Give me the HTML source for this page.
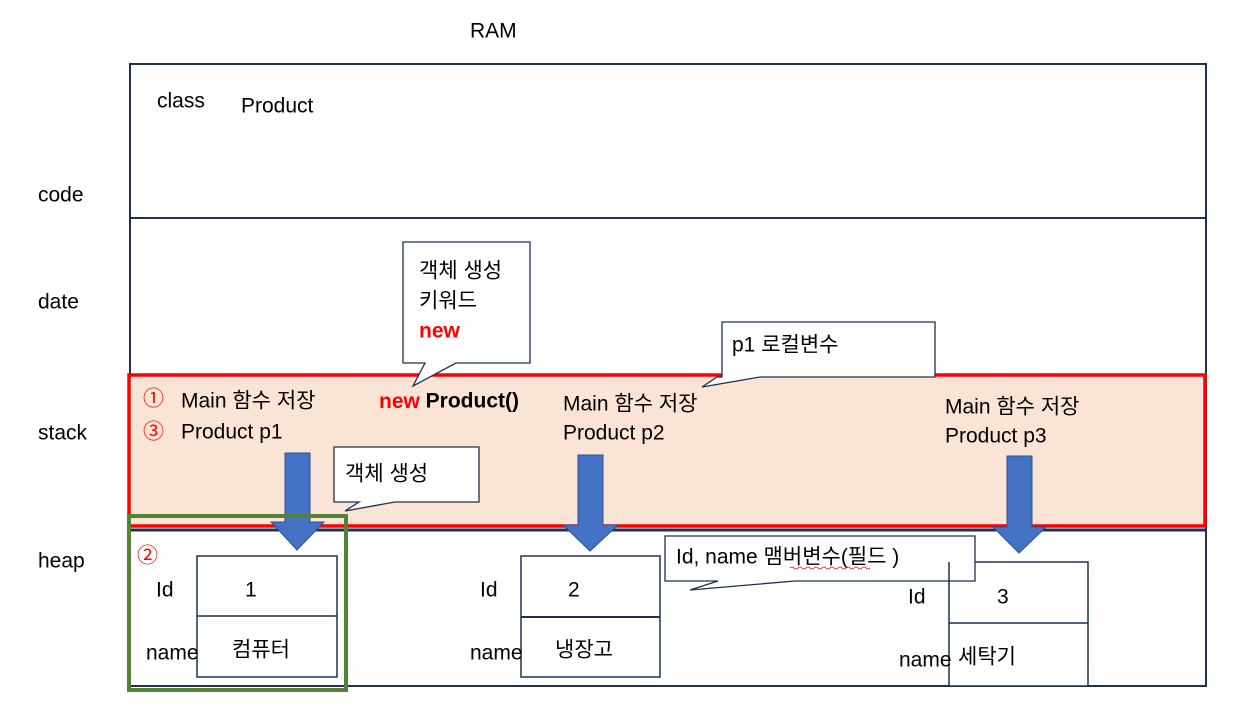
<!DOCTYPE html>
<html><head><meta charset="utf-8"><style>
html,body{margin:0;padding:0;background:#fff;width:1254px;height:712px;overflow:hidden}
text{font-family:"Liberation Sans","Noto Sans CJK KR",sans-serif;font-size:21px;fill:#000;dominant-baseline:central}
</style></head><body>
<svg width="1254" height="712" viewBox="0 0 1254 712" xmlns="http://www.w3.org/2000/svg">
<rect x="130" y="64" width="1076" height="622" fill="#fff" stroke="#1f3050" stroke-width="2"/>
<line x1="130" y1="218" x2="1206" y2="218" stroke="#1f3050" stroke-width="2"/>
<line x1="130" y1="530" x2="1206" y2="530" stroke="#1f3050" stroke-width="3"/>
<rect x="129" y="375" width="1076" height="151" fill="#fae4d6" stroke="#ff0000" stroke-width="3.5"/>

<!-- object boxes -->
<rect x="197" y="556" width="140" height="121" fill="#fff" stroke="#1f3050" stroke-width="1.5"/>
<line x1="197" y1="616" x2="337" y2="616" stroke="#1f3050" stroke-width="1.5"/>
<rect x="521" y="556" width="139" height="121" fill="#fff" stroke="#1f3050" stroke-width="1.5"/>
<line x1="521" y1="617" x2="660" y2="617" stroke="#1f3050" stroke-width="2"/>
<rect x="949" y="562" width="139" height="124" fill="#fff" stroke="#1f3050" stroke-width="1.5"/>
<line x1="949" y1="623" x2="1088" y2="623" stroke="#1f3050" stroke-width="1.5"/>

<!-- arrows -->
<polygon points="285,453 310,453 310,522 324,522 297,550 271,522 285,522" fill="#4472c4" stroke="#2f528f" stroke-width="1"/>
<polygon points="578,455 603,455 603,525 618,525 590,551 563,525 578,525" fill="#4472c4" stroke="#2f528f" stroke-width="1"/>
<polygon points="1007,456 1032,456 1032,527 1046,527 1019,553 993,527 1007,527" fill="#4472c4" stroke="#2f528f" stroke-width="1"/>

<!-- green box -->
<rect x="129" y="516" width="217" height="174" fill="none" stroke="#538135" stroke-width="4"/>

<!-- callouts -->
<path d="M403,242 H530 V363 H456 L413,386 L425,363 H403 Z" fill="#fff" stroke="#1f3050" stroke-width="1.3"/>
<path d="M722,322 H935 V377 H760 L702,387 L717,377 H722 Z" fill="#fff" stroke="#1f3050" stroke-width="1.3"/>
<path d="M334,447 H479 V502 H395 L345,511 L359,502 H334 Z" fill="#fff" stroke="#1f3050" stroke-width="1.3"/>
<path d="M665,536 H975 V581 H795 L690,590 L718,581 H665 Z" fill="#fff" stroke="#1f3050" stroke-width="1.3"/>
<line x1="949" y1="562" x2="949" y2="581" stroke="#1f3050" stroke-width="1.5"/>

<!-- labels -->
<text x="470" y="31">RAM</text>
<text x="38" y="195">code</text>
<text x="38" y="302">date</text>
<text x="38" y="433">stack</text>
<text x="38" y="561">heap</text>
<text x="157" y="101">class</text>
<text x="241" y="106">Product</text>

<text x="419" y="271">객체 생성</text>
<text x="419" y="301">키워드</text>
<text x="419" y="331" style="fill:#ff0000;font-weight:bold">new</text>
<text x="732" y="345">p1  로컬변수</text>
<text x="345" y="474">객체 생성</text>
<text x="676" y="557">Id, name  맴버변수(필드 )</text>
<path d="M790,568 q2,-2 4,0 t4,0 t4,0 t4,0 t4,0 t4,0 t4,0 t4,0 t4,0 t4,0 t4,0 t4,0 t4,0 t4,0 t4,0 t4,0 t4,0 t4,0 t4,0 t4,0" fill="none" stroke="#ff0000" stroke-width="0.8"/>

<text x="143" y="399" style="fill:#ff0000">①</text>
<text x="181" y="401">Main 함수 저장</text>
<text x="143" y="432" style="fill:#ff0000">③</text>
<text x="181" y="432">Product p1</text>
<text x="379" y="401" style="font-weight:bold"><tspan style="fill:#ff0000">new</tspan> Product()</text>
<text x="563" y="404">Main 함수 저장</text>
<text x="563" y="433">Product p2</text>
<text x="945" y="407">Main 함수 저장</text>
<text x="945" y="436">Product p3</text>

<text x="137" y="556" style="fill:#ff0000">②</text>
<text x="156" y="590">Id</text>
<text x="245" y="590">1</text>
<text x="146" y="653">name</text>
<text x="232" y="650">컴퓨터</text>
<text x="480" y="590">Id</text>
<text x="568" y="590">2</text>
<text x="470" y="653">name</text>
<text x="555" y="650">냉장고</text>
<text x="908" y="597">Id</text>
<text x="997" y="597">3</text>
<text x="899" y="660">name</text>
<text x="958" y="657">세탁기</text>
</svg>
</body></html>
